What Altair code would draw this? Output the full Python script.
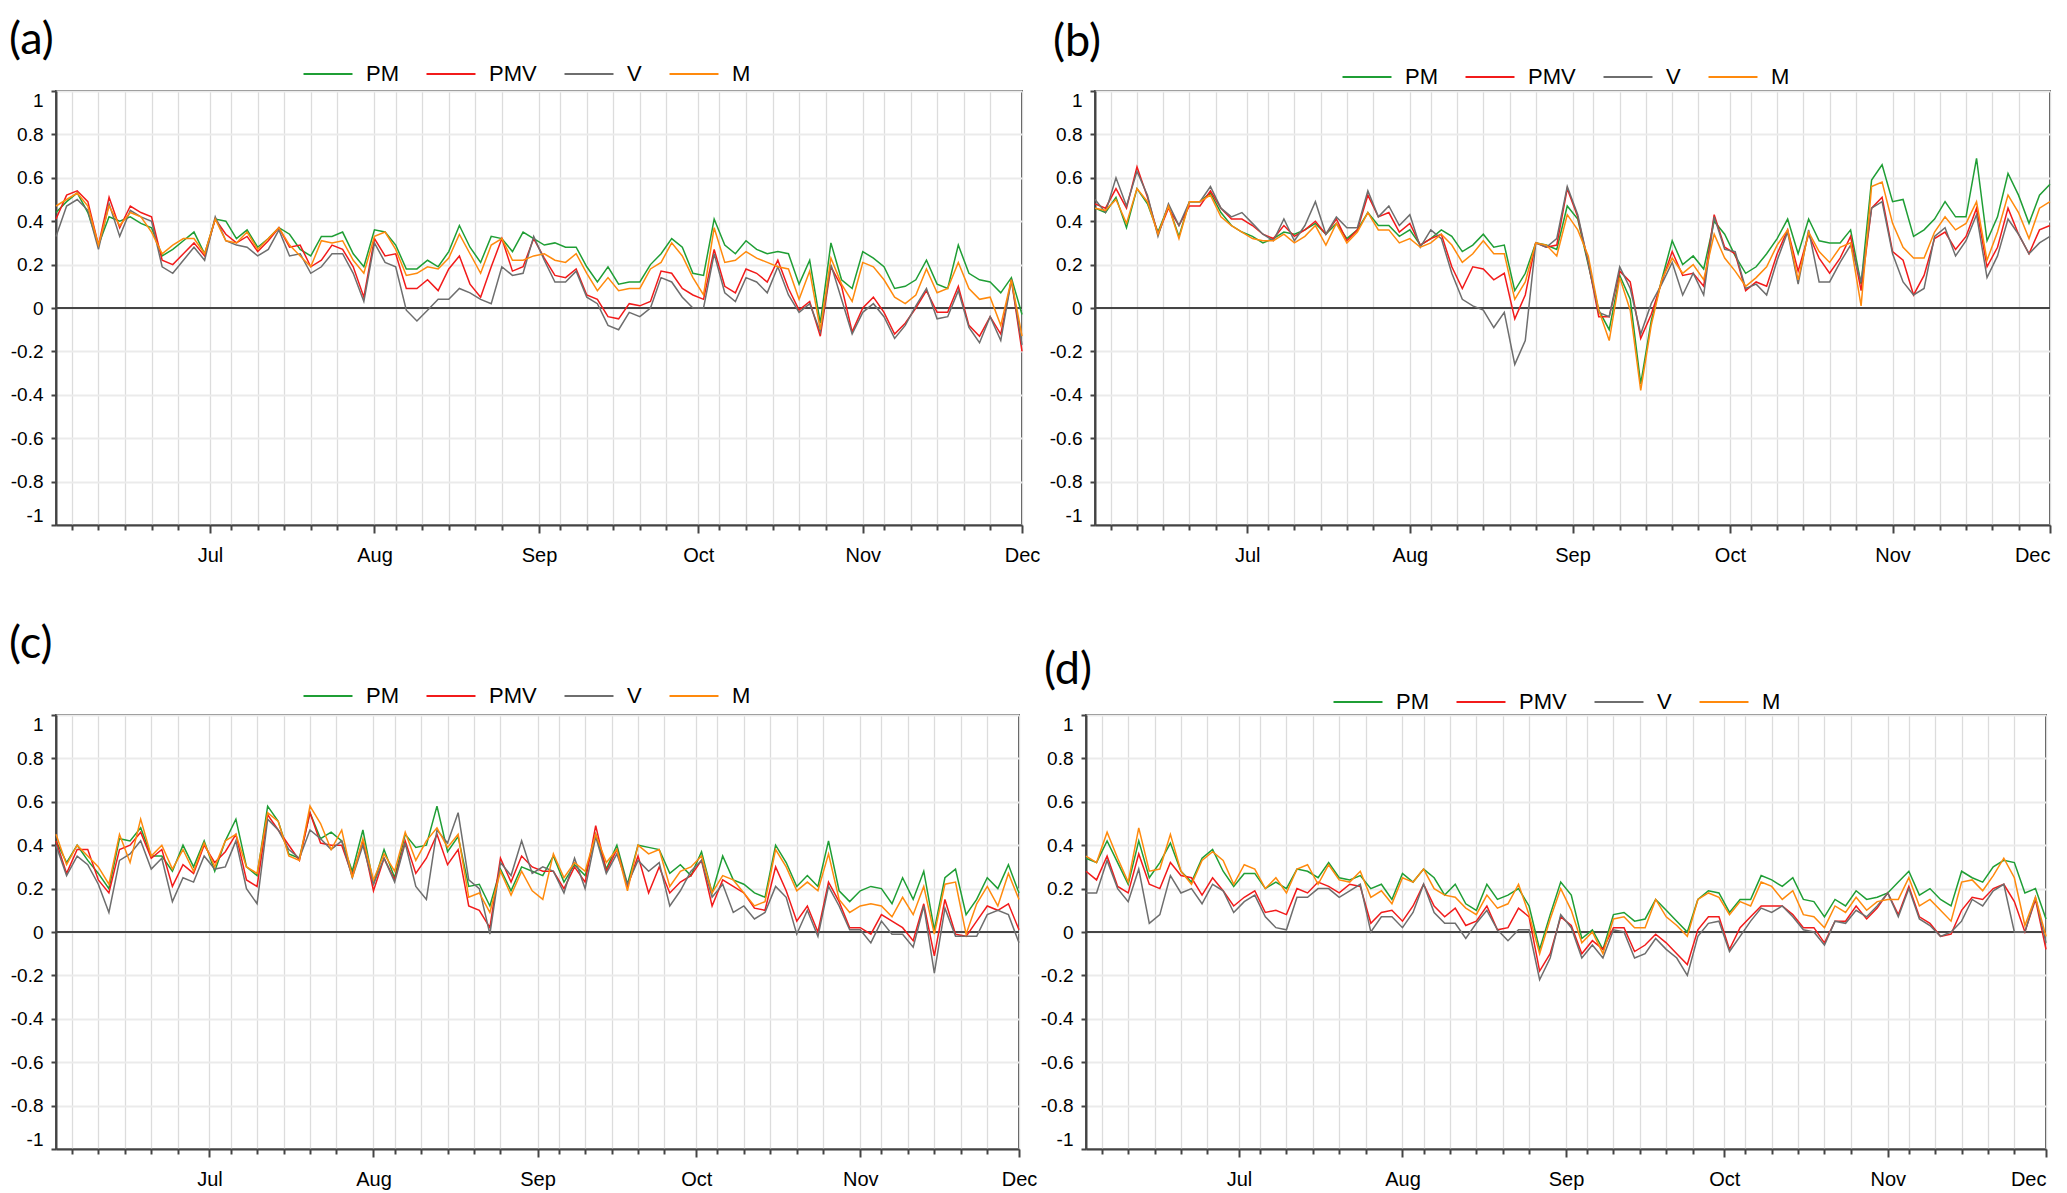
import altair as alt
import pandas as pd
from datetime import date, timedelta

START = date(2019, 6, 2)          # first day shown on the x axis
day_offsets = list(range(0, 183, 2))   # every second day, June 2 .. Dec 1

SERIES = ["PM", "PMV", "V", "M"]
COLORS = ["#1f9e35", "#f21b1b", "#6e6e6e", "#ff8a0d"]

y_ticks = [-1, -0.8, -0.6, -0.4, -0.2, 0, 0.2, 0.4, 0.6, 0.8, 1]
tick_month_days = [(6, 5), (6, 10), (6, 15), (6, 20), (6, 25),
                   (7, 1), (7, 5), (7, 10), (7, 15), (7, 20), (7, 25),
                   (8, 1), (8, 5), (8, 10), (8, 15), (8, 20), (8, 25),
                   (9, 1), (9, 5), (9, 10), (9, 15), (9, 20), (9, 25),
                   (10, 1), (10, 5), (10, 10), (10, 15), (10, 20), (10, 25),
                   (11, 1), (11, 5), (11, 10), (11, 15), (11, 20), (11, 25),
                   (12, 1)]

# ---------------- panel (a) ----------------
a_pm = [0.44, 0.49, 0.53, 0.44, 0.29, 0.42, 0.40, 0.42, 0.39, 0.37,
        0.24, 0.27, 0.31, 0.35, 0.25, 0.41, 0.40, 0.32, 0.36, 0.28,
        0.32, 0.37, 0.34, 0.27, 0.24, 0.33, 0.33, 0.35, 0.25, 0.19,
        0.36, 0.35, 0.29, 0.18, 0.18, 0.22, 0.19, 0.26, 0.38, 0.28,
        0.21, 0.33, 0.32, 0.26, 0.35, 0.32,
        0.29, 0.30, 0.28, 0.28, 0.19, 0.12, 0.19, 0.11, 0.12, 0.12,
        0.20, 0.25, 0.32, 0.28, 0.16, 0.15, 0.41, 0.29, 0.25, 0.31,
        0.27, 0.25, 0.26, 0.25, 0.11, 0.22, -0.07, 0.30, 0.13, 0.09,
        0.26, 0.23, 0.19, 0.09, 0.10, 0.13, 0.22, 0.11, 0.09, 0.29,
        0.16, 0.13, 0.12, 0.07, 0.14, -0.03]
a_pmv = [0.41, 0.52, 0.54, 0.49, 0.29, 0.51, 0.37, 0.47, 0.44, 0.42,
         0.22, 0.20, 0.25, 0.30, 0.24, 0.41, 0.34, 0.30, 0.33, 0.26,
         0.31, 0.37, 0.28, 0.29, 0.19, 0.22, 0.29, 0.27, 0.19, 0.05,
         0.32, 0.24, 0.25, 0.09, 0.09, 0.13, 0.08, 0.18, 0.24, 0.11,
         0.05, 0.19, 0.32, 0.17, 0.19, 0.32,
         0.23, 0.15, 0.14, 0.18, 0.06, 0.04, -0.04, -0.05, 0.02, 0.01,
         0.03, 0.17, 0.16, 0.09, 0.06, 0.04, 0.27, 0.10, 0.07, 0.18,
         0.16, 0.12, 0.22, 0.09, -0.01, 0.03, -0.13, 0.19, 0.10, -0.11,
         0.00, 0.05, -0.02, -0.12, -0.07, 0.00, 0.08, -0.02, -0.02, 0.10,
         -0.08, -0.13, -0.04, -0.12, 0.13, -0.20]
a_v = [0.33, 0.47, 0.50, 0.45, 0.27, 0.48, 0.33, 0.45, 0.42, 0.40,
       0.19, 0.16, 0.22, 0.28, 0.22, 0.42, 0.31, 0.29, 0.28, 0.24,
       0.27, 0.36, 0.24, 0.25, 0.16, 0.19, 0.25, 0.25, 0.16, 0.03,
       0.30, 0.21, 0.19, -0.01, -0.06, -0.01, 0.04, 0.04, 0.09, 0.07,
       0.04, 0.02, 0.19, 0.15, 0.16, 0.33,
       0.22, 0.12, 0.12, 0.17, 0.05, 0.02, -0.08, -0.10, -0.02, -0.04,
       0.00, 0.14, 0.12, 0.05, 0.00, 0.00, 0.25, 0.07, 0.03, 0.14,
       0.12, 0.07, 0.19, 0.06, -0.02, 0.02, -0.11, 0.20, 0.04, -0.12,
       -0.02, 0.02, -0.04, -0.14, -0.08, 0.01, 0.09, -0.05, -0.04, 0.08,
       -0.09, -0.16, -0.04, -0.15, 0.13, -0.17]
a_m = [0.47, 0.50, 0.53, 0.47, 0.29, 0.47, 0.38, 0.44, 0.42, 0.35,
       0.25, 0.29, 0.32, 0.32, 0.25, 0.41, 0.31, 0.30, 0.35, 0.27,
       0.32, 0.37, 0.29, 0.24, 0.19, 0.31, 0.30, 0.31, 0.22, 0.16,
       0.33, 0.35, 0.27, 0.15, 0.16, 0.19, 0.18, 0.23, 0.34, 0.25,
       0.16, 0.29, 0.32, 0.22, 0.22, 0.24,
       0.25, 0.22, 0.21, 0.25, 0.16, 0.08, 0.14, 0.08, 0.09, 0.09,
       0.18, 0.21, 0.30, 0.24, 0.14, 0.06, 0.37, 0.21, 0.22, 0.26,
       0.23, 0.21, 0.19, 0.18, 0.04, 0.17, -0.10, 0.23, 0.11, 0.03,
       0.21, 0.19, 0.13, 0.05, 0.02, 0.06, 0.18, 0.07, 0.09, 0.21,
       0.09, 0.04, 0.05, -0.08, 0.13, -0.13]

# ---------------- panel (b) ----------------
b_pm = [0.46, 0.44, 0.51, 0.37, 0.55, 0.48, 0.35, 0.47, 0.33, 0.49,
        0.49, 0.53, 0.44, 0.38, 0.35, 0.33, 0.30, 0.32, 0.35, 0.34,
        0.36, 0.39, 0.34, 0.39, 0.32, 0.36, 0.44, 0.38, 0.38, 0.33,
        0.36, 0.29, 0.32, 0.36, 0.33, 0.26, 0.29, 0.34, 0.28, 0.29,
        0.08, 0.16, 0.30, 0.29, 0.27, 0.47,
        0.41, 0.20, -0.01, -0.10, 0.15, 0.04, -0.35, -0.06, 0.13, 0.31,
        0.20, 0.24, 0.18, 0.40, 0.34, 0.24, 0.16, 0.19, 0.25, 0.32,
        0.41, 0.25, 0.41, 0.31, 0.30, 0.30, 0.36, 0.11, 0.59, 0.66,
        0.49, 0.50, 0.33, 0.36, 0.41, 0.49, 0.42, 0.42, 0.69, 0.31,
        0.42, 0.62, 0.52, 0.39, 0.52, 0.57]
b_pmv = [0.48, 0.46, 0.55, 0.46, 0.65, 0.51, 0.34, 0.46, 0.38, 0.47,
         0.47, 0.54, 0.46, 0.41, 0.41, 0.38, 0.34, 0.32, 0.38, 0.33,
         0.36, 0.40, 0.34, 0.41, 0.31, 0.36, 0.52, 0.42, 0.44, 0.35,
         0.39, 0.29, 0.32, 0.34, 0.19, 0.09, 0.19, 0.18, 0.13, 0.16,
         -0.05, 0.06, 0.30, 0.28, 0.29, 0.55,
         0.42, 0.21, -0.04, -0.04, 0.17, 0.12, -0.14, -0.03, 0.12, 0.26,
         0.15, 0.16, 0.10, 0.43, 0.28, 0.25, 0.08, 0.12, 0.10, 0.25,
         0.36, 0.17, 0.34, 0.23, 0.16, 0.23, 0.33, 0.08, 0.46, 0.51,
         0.26, 0.22, 0.06, 0.15, 0.32, 0.35, 0.27, 0.33, 0.46, 0.19,
         0.28, 0.46, 0.34, 0.25, 0.36, 0.38]
b_v = [0.50, 0.44, 0.60, 0.47, 0.63, 0.52, 0.33, 0.48, 0.38, 0.49,
       0.49, 0.56, 0.46, 0.42, 0.44, 0.39, 0.34, 0.31, 0.41, 0.31,
       0.38, 0.49, 0.34, 0.42, 0.37, 0.37, 0.54, 0.42, 0.47, 0.38,
       0.43, 0.28, 0.36, 0.32, 0.16, 0.04, 0.01, -0.01, -0.09, -0.02,
       -0.26, -0.15, 0.30, 0.28, 0.32, 0.56,
       0.43, 0.21, -0.02, -0.04, 0.19, 0.09, -0.12, 0.02, 0.11, 0.21,
       0.06, 0.16, 0.06, 0.42, 0.27, 0.26, 0.09, 0.11, 0.06, 0.22,
       0.35, 0.11, 0.36, 0.12, 0.12, 0.21, 0.29, 0.12, 0.46, 0.49,
       0.25, 0.12, 0.06, 0.09, 0.33, 0.37, 0.24, 0.31, 0.43, 0.14,
       0.24, 0.41, 0.34, 0.25, 0.30, 0.33]
b_m = [0.46, 0.45, 0.50, 0.39, 0.55, 0.49, 0.34, 0.47, 0.32, 0.49,
       0.49, 0.52, 0.42, 0.38, 0.35, 0.32, 0.31, 0.31, 0.34, 0.30,
       0.33, 0.38, 0.29, 0.39, 0.30, 0.35, 0.44, 0.36, 0.36, 0.30,
       0.32, 0.28, 0.30, 0.34, 0.29, 0.21, 0.25, 0.31, 0.25, 0.25,
       0.04, 0.12, 0.30, 0.29, 0.24, 0.43,
       0.36, 0.24, -0.01, -0.15, 0.14, -0.01, -0.38, -0.08, 0.13, 0.23,
       0.16, 0.20, 0.13, 0.34, 0.23, 0.17, 0.10, 0.14, 0.19, 0.29,
       0.36, 0.13, 0.35, 0.26, 0.21, 0.28, 0.30, 0.01, 0.56, 0.58,
       0.39, 0.28, 0.23, 0.23, 0.35, 0.42, 0.36, 0.39, 0.49, 0.22,
       0.35, 0.52, 0.44, 0.32, 0.46, 0.49]

# ---------------- panel (c) ----------------
c_pm = [0.42, 0.32, 0.40, 0.33, 0.27, 0.20, 0.43, 0.42, 0.48, 0.35,
        0.35, 0.28, 0.40, 0.30, 0.42, 0.28, 0.42, 0.52, 0.30, 0.26,
        0.58, 0.51, 0.36, 0.34, 0.55, 0.43, 0.46, 0.42, 0.28, 0.47,
        0.22, 0.38, 0.25, 0.45, 0.39, 0.40, 0.58, 0.37, 0.44, 0.21,
        0.22, 0.12, 0.29, 0.19, 0.30, 0.28,
        0.26, 0.35, 0.23, 0.31, 0.26, 0.45, 0.29, 0.40, 0.22, 0.40,
        0.39, 0.38, 0.27, 0.31, 0.26, 0.37, 0.18, 0.35, 0.24, 0.22,
        0.18, 0.16, 0.40, 0.32, 0.21, 0.26, 0.21, 0.42, 0.19, 0.14,
        0.19, 0.21, 0.20, 0.13, 0.25, 0.15, 0.28, 0.01, 0.25, 0.29,
        0.08, 0.15, 0.25, 0.20, 0.31, 0.18]
c_pmv = [0.42, 0.27, 0.38, 0.38, 0.24, 0.18, 0.38, 0.40, 0.46, 0.34,
         0.38, 0.21, 0.31, 0.27, 0.40, 0.32, 0.37, 0.45, 0.24, 0.21,
         0.54, 0.47, 0.40, 0.33, 0.55, 0.41, 0.40, 0.40, 0.26, 0.42,
         0.19, 0.34, 0.24, 0.42, 0.27, 0.34, 0.45, 0.31, 0.38, 0.12,
         0.10, 0.02, 0.34, 0.23, 0.35, 0.30,
         0.28, 0.28, 0.20, 0.30, 0.23, 0.49, 0.28, 0.38, 0.21, 0.35,
         0.18, 0.30, 0.18, 0.23, 0.26, 0.33, 0.12, 0.24, 0.21, 0.18,
         0.11, 0.10, 0.30, 0.19, 0.05, 0.12, 0.00, 0.23, 0.14, 0.02,
         0.02, -0.01, 0.08, 0.05, 0.02, -0.04, 0.13, -0.11, 0.15, -0.01,
         -0.02, 0.05, 0.12, 0.10, 0.13, 0.01]
c_v = [0.40, 0.26, 0.35, 0.31, 0.22, 0.09, 0.33, 0.36, 0.42, 0.29,
       0.34, 0.14, 0.25, 0.23, 0.35, 0.29, 0.30, 0.42, 0.20, 0.13,
       0.52, 0.47, 0.38, 0.34, 0.47, 0.43, 0.38, 0.42, 0.25, 0.40,
       0.22, 0.34, 0.23, 0.41, 0.21, 0.15, 0.47, 0.41, 0.55, 0.24,
       0.20, -0.01, 0.32, 0.26, 0.42, 0.27,
       0.30, 0.28, 0.18, 0.34, 0.20, 0.44, 0.27, 0.36, 0.22, 0.33,
       0.28, 0.32, 0.12, 0.19, 0.28, 0.33, 0.16, 0.22, 0.09, 0.12,
       0.06, 0.09, 0.21, 0.16, -0.01, 0.10, -0.02, 0.21, 0.12, 0.01,
       0.01, -0.05, 0.05, -0.01, -0.01, -0.07, 0.12, -0.19, 0.11, -0.02,
       -0.02, -0.02, 0.08, 0.10, 0.08, -0.05]
c_m = [0.45, 0.31, 0.40, 0.35, 0.30, 0.22, 0.45, 0.32, 0.52, 0.35,
       0.40, 0.29, 0.38, 0.28, 0.41, 0.30, 0.42, 0.45, 0.30, 0.27,
       0.55, 0.51, 0.35, 0.33, 0.58, 0.50, 0.38, 0.47, 0.25, 0.43,
       0.24, 0.36, 0.28, 0.46, 0.33, 0.42, 0.48, 0.39, 0.45, 0.16,
       0.18, 0.09, 0.28, 0.17, 0.28, 0.19,
       0.15, 0.36, 0.25, 0.32, 0.28, 0.45, 0.32, 0.38, 0.19, 0.40,
       0.36, 0.38, 0.21, 0.28, 0.30, 0.35, 0.18, 0.26, 0.24, 0.18,
       0.12, 0.14, 0.38, 0.30, 0.19, 0.23, 0.19, 0.36, 0.15, 0.09,
       0.12, 0.13, 0.12, 0.07, 0.16, 0.08, 0.21, -0.01, 0.22, 0.23,
       -0.01, 0.13, 0.21, 0.12, 0.27, 0.15]

# ---------------- panel (d) ----------------
d_pm = [0.34, 0.32, 0.42, 0.32, 0.22, 0.42, 0.25, 0.32, 0.41, 0.28,
        0.23, 0.34, 0.38, 0.28, 0.21, 0.27, 0.27, 0.20, 0.23, 0.20,
        0.29, 0.28, 0.25, 0.32, 0.25, 0.24, 0.26, 0.20, 0.22, 0.15,
        0.27, 0.23, 0.29, 0.25, 0.17, 0.22, 0.13, 0.10, 0.22, 0.15,
        0.17, 0.20, 0.12, -0.08, 0.08, 0.23,
        0.17, -0.03, 0.01, -0.08, 0.08, 0.09, 0.05, 0.06, 0.15, 0.10,
        0.05, 0.00, 0.15, 0.19, 0.18, 0.09, 0.15, 0.15, 0.26, 0.24,
        0.21, 0.25, 0.15, 0.14, 0.07, 0.15, 0.12, 0.19, 0.15, 0.16,
        0.18, 0.23, 0.28, 0.17, 0.20, 0.15, 0.12, 0.28, 0.25, 0.23,
        0.30, 0.33, 0.32, 0.18, 0.20, 0.06]
d_pmv = [0.28, 0.24, 0.35, 0.21, 0.18, 0.36, 0.22, 0.20, 0.32, 0.26,
         0.25, 0.17, 0.25, 0.19, 0.12, 0.16, 0.19, 0.09, 0.10, 0.08,
         0.20, 0.18, 0.23, 0.21, 0.18, 0.22, 0.21, 0.04, 0.09, 0.10,
         0.05, 0.12, 0.22, 0.12, 0.07, 0.11, 0.03, 0.05, 0.12, 0.01,
         0.02, 0.11, 0.07, -0.18, -0.10, 0.07,
         0.03, -0.10, -0.04, -0.08, 0.02, 0.02, -0.09, -0.06, -0.01, -0.05,
         -0.10, -0.15, 0.01, 0.07, 0.07, -0.08, 0.02, 0.07, 0.12, 0.12,
         0.12, 0.08, 0.02, 0.02, -0.05, 0.05, 0.05, 0.12, 0.06, 0.11,
         0.18, 0.08, 0.21, 0.07, 0.04, -0.02, -0.01, 0.10, 0.16, 0.15,
         0.20, 0.22, 0.14, 0.00, 0.15, -0.08]
d_v = [0.18, 0.18, 0.33, 0.20, 0.14, 0.29, 0.04, 0.08, 0.26, 0.18,
       0.20, 0.13, 0.22, 0.19, 0.09, 0.14, 0.17, 0.07, 0.02, 0.01,
       0.16, 0.16, 0.20, 0.20, 0.16, 0.19, 0.22, 0.00, 0.07, 0.07,
       0.02, 0.09, 0.22, 0.09, 0.04, 0.04, -0.03, 0.04, 0.10, 0.01,
       -0.04, 0.01, 0.01, -0.22, -0.12, 0.08,
       0.02, -0.12, -0.06, -0.12, 0.01, 0.00, -0.12, -0.10, -0.03, -0.08,
       -0.12, -0.20, -0.02, 0.04, 0.05, -0.09, -0.02, 0.05, 0.11, 0.09,
       0.12, 0.07, 0.01, 0.00, -0.06, 0.05, 0.04, 0.10, 0.07, 0.12,
       0.18, 0.07, 0.20, 0.06, 0.03, -0.02, 0.00, 0.05, 0.15, 0.12,
       0.19, 0.22, 0.00, 0.00, 0.16, -0.05]
d_m = [0.35, 0.32, 0.46, 0.34, 0.23, 0.48, 0.28, 0.29, 0.45, 0.28,
       0.22, 0.33, 0.37, 0.33, 0.22, 0.31, 0.29, 0.20, 0.25, 0.18,
       0.29, 0.31, 0.22, 0.31, 0.24, 0.23, 0.28, 0.16, 0.19, 0.13,
       0.25, 0.23, 0.29, 0.20, 0.17, 0.16, 0.11, 0.08, 0.17, 0.11,
       0.13, 0.22, 0.08, -0.10, 0.06, 0.20,
       0.10, -0.05, 0.00, -0.10, 0.06, 0.07, 0.02, 0.02, 0.15, 0.07,
       0.03, -0.02, 0.15, 0.18, 0.16, 0.08, 0.14, 0.12, 0.23, 0.21,
       0.15, 0.19, 0.08, 0.07, 0.02, 0.12, 0.09, 0.16, 0.10, 0.14,
       0.15, 0.15, 0.25, 0.12, 0.15, 0.10, 0.05, 0.23, 0.24, 0.19,
       0.26, 0.34, 0.25, 0.03, 0.16, -0.02]

FONT = "Liberation Sans"


def make_df(series_lists):
    rows = []
    for name, vals in zip(SERIES, series_lists):
        for d, v in zip(day_offsets, vals):
            rows.append({"date": (START + timedelta(days=d)).isoformat() + "T00:00:00",
                         "series": name, "value": v})
    return pd.DataFrame(rows)


end_day = START + timedelta(days=day_offsets[-1])
x_scale = alt.Scale(domain=[alt.DateTime(year=START.year, month=START.month, date=START.day),
                            alt.DateTime(year=end_day.year, month=end_day.month, date=end_day.day)])
y_scale = alt.Scale(domain=[-1, 1], nice=False, zero=False)


def x_axis(flush_last):
    return alt.Axis(
        values=[alt.DateTime(year=START.year, month=m, date=dd) for m, dd in tick_month_days],
        labelExpr="date(datum.value) == 1 ? timeFormat(datum.value, '%b') : ''",
        title=None, grid=True, gridColor="#dcdcdc", gridWidth=1.3,
        tickSize={"condition": {"test": "date(datum.value) == 1", "value": 8}, "value": 5},
        tickColor="#444444", tickWidth=2, domainColor="#444444", domainWidth=2,
        labelFlush=flush_last, labelOverlap=False, labelFont=FONT, labelFontSize=20,
        labelColor="#000000", labelPadding=12,
    )


def y_axis(extent):
    return alt.Axis(
        values=y_ticks, labelExpr="toString(round(datum.value * 10) / 10)",
        title=None, grid=True, gridColor="#ebebeb", gridWidth=2.2,
        tickSize=5, tickColor="#444444", tickWidth=2, domainColor="#444444", domainWidth=2,
        labelFlush=True, labelFont=FONT, labelFontSize=19, labelColor="#000000",
        labelPadding=8, minExtent=extent,
    )


def panel(label, series_lists, width, height, extent, title_offset, legend_y, flush_last):
    df = make_df(series_lists)
    ya = y_axis(extent)
    zero = alt.Chart(pd.DataFrame({"zero": [0]})).mark_rule(
        color="#454545", strokeWidth=2).encode(y=alt.Y("zero:Q", scale=y_scale, axis=ya))
    lines = alt.Chart(df).mark_line(strokeWidth=1.5).encode(
        x=alt.X("date:T", scale=x_scale, axis=x_axis(flush_last)),
        y=alt.Y("value:Q", scale=y_scale, axis=ya),
        color=alt.Color("series:N", sort=SERIES,
                        scale=alt.Scale(domain=SERIES, range=COLORS),
                        legend=alt.Legend(orient="none", direction="horizontal",
                                          legendX=246, legendY=legend_y, title=None,
                                          symbolType="stroke", symbolSize=2400,
                                          symbolStrokeWidth=2.2, labelFont=FONT,
                                          labelFontSize=22, labelColor="#000000",
                                          columnPadding=23, labelOffset=12)),
    )
    return alt.layer(zero, lines).properties(
        width=width, height=height,
        title=alt.TitleParams(label, anchor="start", frame="bounds", font="Lato",
                              fontSize=45, fontWeight="normal", color="#000000",
                              offset=title_offset, dx=4),
    )


pa = panel("(a)", [a_pm, a_pmv, a_v, a_m], 966, 434, 51, -15, -43, False)
pb = panel("(b)", [b_pm, b_pmv, b_v, b_m], 955, 434, 46, -14, -40, True)
pc = panel("(c)", [c_pm, c_pmv, c_v, c_m], 963, 434, 51, 3, -45, False)
pd_ = panel("(d)", [d_pm, d_pmv, d_v, d_m], 960, 434, 46, -17, -39, True)

row1 = alt.hconcat(pa, pb, spacing=7).resolve_scale(color="independent").resolve_legend(color="independent")
row2 = alt.hconcat(pc, pd_, spacing=1).resolve_scale(color="independent").resolve_legend(color="independent")

chart = alt.vconcat(row1, row2, spacing=55).resolve_scale(color="independent").resolve_legend(
    color="independent").properties(
    padding={"left": -4, "top": 9, "right": 0, "bottom": 0}
).configure_view(stroke="#555555", strokeWidth=2)

chart.save("out.html", embed_options={"renderer": "svg", "actions": False})
